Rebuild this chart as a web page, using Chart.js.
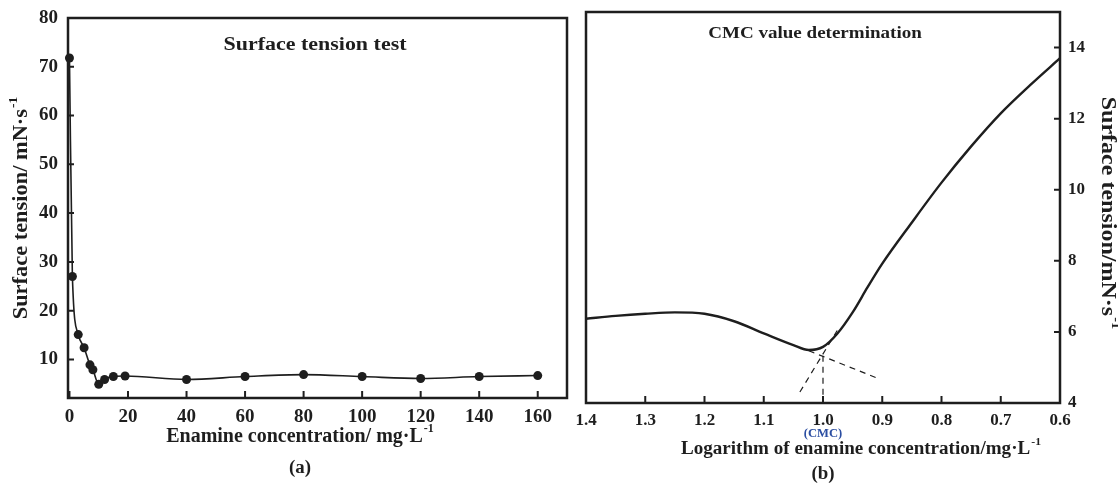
<!DOCTYPE html>
<html>
<head>
<meta charset="utf-8">
<script src="https://cdn.jsdelivr.net/npm/chart.js@4.4.0/dist/chart.umd.min.js"></script>
<style>
  body { margin: 0; background: #fff; }
  #wrapA { position: absolute; left: 0; top: 0; width: 576px; height: 487px; }
  #wrapB { position: absolute; left: 576px; top: 0; width: 542px; height: 487px; }
</style>
</head>
<body>
<div id="wrapA"><canvas id="chartA"></canvas></div>
<div id="wrapB"><canvas id="chartB"></canvas></div>
<script>
// (a) surface tension against enamine concentration
var concentration = [0, 1, 3, 5, 7, 8, 10, 12, 15, 19, 40, 60, 80, 100, 120, 140, 160];
var tension = [71.8, 27, 15.1, 12.4, 8.9, 7.9, 4.9, 5.9, 6.5, 6.6, 5.9, 6.5, 6.9, 6.5, 6.1, 6.5, 6.7];
var concTicks = [0, 20, 40, 60, 80, 100, 120, 140, 160];
var tensionTicks = [10, 20, 30, 40, 50, 60, 70, 80];

// (b) fitted curve against log concentration
var logConc = [1.40, 1.35, 1.30, 1.25, 1.20, 1.15, 1.10, 1.05, 1.024, 1.00, 0.976, 0.95, 0.925, 0.90, 0.85, 0.80, 0.75, 0.70, 0.65, 0.60];
var tensionFit = [6.37, 6.45, 6.51, 6.55, 6.51, 6.30, 5.96, 5.63, 5.49, 5.58, 5.95, 6.55, 7.25, 7.92, 9.08, 10.2, 11.22, 12.15, 12.95, 13.7];
var flatTangentX = [1.024, 0.907];
var flatTangentY = [5.47, 4.69];
var steepTangentX = [1.039, 0.976];
var steepTangentY = [4.31, 6.04];
var cmcX = 1.0;
var cmcY = 5.33;
var logTicks = [1.4, 1.3, 1.2, 1.1, 1.0, 0.9, 0.8, 0.7, 0.6];
var fitTicks = [4, 6, 8, 10, 12, 14];

var INK = '#1e1e1e';
var SERIF = '"Liberation Serif", "Times New Roman", serif';
Chart.defaults.font.family = SERIF;
Chart.defaults.color = INK;

function pts(xs, ys) {
	return xs.map(function (x, i) { return { x: x, y: ys[i] }; });
}

// bold text centred on (x, y), widened by k, with an optional small raised suffix
function label(ctx, base, sup, x, y, size, k, color) {
	var small = Math.round(size * 0.6);
	ctx.save();
	ctx.translate(x, y);
	ctx.scale(k, 1);
	ctx.fillStyle = color || INK;
	ctx.textAlign = 'left';
	ctx.textBaseline = 'middle';
	ctx.font = 'bold ' + size + 'px ' + SERIF;
	var w1 = ctx.measureText(base).width;
	var w2 = 0;
	if (sup) {
		ctx.font = 'bold ' + small + 'px ' + SERIF;
		w2 = ctx.measureText(sup).width + 1;
	}
	var sx = -(w1 + w2) / 2;
	ctx.font = 'bold ' + size + 'px ' + SERIF;
	ctx.fillText(base, sx, 0);
	if (sup) {
		ctx.font = 'bold ' + small + 'px ' + SERIF;
		ctx.fillText(sup, sx + w1 + 1, -size * 0.38);
	}
	ctx.restore();
}

// box around the plot, inward tick marks, then the panel texts
function framePlugin(yOnRight, drawTexts) {
	return {
		id: 'frame',
		afterDatasetsDraw: function (chart) {
			var ctx = chart.ctx, a = chart.chartArea, sx = chart.scales.x, sy = chart.scales.y;
			ctx.save();
			ctx.strokeStyle = INK;
			ctx.lineWidth = 2.5;
			ctx.strokeRect(a.left, a.top, a.right - a.left, a.bottom - a.top);
			ctx.lineWidth = 2;
			ctx.beginPath();
			sx.ticks.forEach(function (t) {
				var px = sx.getPixelForValue(t.value);
				ctx.moveTo(px, a.bottom);
				ctx.lineTo(px, a.bottom - 7);
			});
			sy.ticks.forEach(function (t) {
				var py = sy.getPixelForValue(t.value);
				if (yOnRight) {
					ctx.moveTo(a.right, py);
					ctx.lineTo(a.right - 6, py);
				} else {
					ctx.moveTo(a.left, py);
					ctx.lineTo(a.left + 6, py);
				}
			});
			ctx.stroke();
			drawTexts(chart, ctx, a);
			ctx.restore();
		}
	};
}

function fixedTicks(list) {
	return function (scale) {
		scale.ticks = list.map(function (v) { return { value: v }; });
	};
}

// fixed axis band, no extra room for overhanging labels
function fixedSize(prop, size) {
	return function (s) {
		s[prop] = size;
		s.paddingTop = s.paddingBottom = s.paddingLeft = s.paddingRight = 0;
	};
}

var chartA = new Chart(document.getElementById('chartA').getContext('2d'), {
	type: 'line',
	data: {
		datasets: [
			{
				data: pts(concentration, tension),
				borderColor: INK,
				borderWidth: 1.6,
				pointRadius: 4.5,
				pointBackgroundColor: INK,
				pointBorderWidth: 0,
				cubicInterpolationMode: 'monotone',
				clip: false,
			},
		],
	},
	options: {
		responsive: true,
		maintainAspectRatio: false,
		animation: false,
		layout: { padding: { top: 18, right: 9, left: 0, bottom: 0 } },
		plugins: {
			legend: { display: false },
			tooltip: { enabled: false },
		},
		scales: {
			x: {
				type: 'linear',
				min: -0.5,
				max: 170,
				grid: { display: false, drawTicks: false },
				border: { display: false },
				afterBuildTicks: fixedTicks(concTicks),
				afterFit: fixedSize('height', 89),
				ticks: { color: INK, font: { size: 19, weight: 'bold' }, padding: 8, maxRotation: 0, autoSkip: false },
			},
			y: {
				type: 'linear',
				min: 2.1,
				max: 80,
				grid: { display: false, drawTicks: false },
				border: { display: false },
				afterBuildTicks: fixedTicks(tensionTicks),
				afterFit: fixedSize('width', 68),
				ticks: { color: INK, font: { size: 19, weight: 'bold' }, padding: 10, autoSkip: false },
			},
		},
	},
	plugins: [framePlugin(false, function (chart, ctx, a) {
		label(ctx, 'Surface tension test', null, 315, 45, 18, 1.22);
		label(ctx, 'Enamine concentration/ mg·L', '-1', 300, 437, 20, 1);
		label(ctx, '(a)', null, 300, 468, 18, 1.05);
		ctx.save();
		ctx.translate(22, 208);
		ctx.rotate(-Math.PI / 2);
		label(ctx, 'Surface tension/ mN·s', '-1', 0, 0, 20, 1.12);
		ctx.restore();
	})],
});

var dashed = {
	borderColor: INK,
	borderWidth: 1.2,
	borderDash: [6, 5],
	pointRadius: 0,
	tension: 0,
};

var chartB = new Chart(document.getElementById('chartB').getContext('2d'), {
	type: 'line',
	data: {
		datasets: [
			{
				data: pts(logConc, tensionFit),
				borderColor: INK,
				borderWidth: 2.4,
				pointRadius: 0,
				cubicInterpolationMode: 'monotone',
			},
			Object.assign({ data: pts(flatTangentX, flatTangentY) }, dashed),
			Object.assign({ data: pts(steepTangentX, steepTangentY) }, dashed),
			Object.assign({ data: pts([cmcX, cmcX], [cmcY, 4]) }, dashed),
		],
	},
	options: {
		responsive: true,
		maintainAspectRatio: false,
		animation: false,
		layout: { padding: { top: 12, right: 0, left: 10, bottom: 0 } },
		plugins: {
			legend: { display: false },
			tooltip: { enabled: false },
		},
		scales: {
			x: {
				type: 'linear',
				reverse: true,
				min: 0.6,
				max: 1.4,
				grid: { display: false, drawTicks: false },
				border: { display: false },
				afterBuildTicks: fixedTicks(logTicks),
				afterFit: fixedSize('height', 84),
				ticks: {
					color: INK,
					font: { size: 17, weight: 'bold' },
					padding: 7,
					maxRotation: 0,
					autoSkip: false,
					callback: function (v) { return Number(v).toFixed(1); },
				},
			},
			y: {
				type: 'linear',
				position: 'right',
				min: 4,
				max: 15,
				grid: { display: false, drawTicks: false },
				border: { display: false },
				afterBuildTicks: fixedTicks(fitTicks),
				afterFit: fixedSize('width', 58),
				ticks: { color: INK, font: { size: 17, weight: 'bold' }, padding: 8, autoSkip: false },
			},
		},
	},
	plugins: [framePlugin(true, function (chart, ctx, a) {
		var xc = chart.scales.x.getPixelForValue(cmcX);
		label(ctx, 'CMC value determination', null, 239, 34, 17, 1.12);
		label(ctx, '(CMC)', null, xc, 434, 12, 1.05, '#2b4ea2');
		label(ctx, 'Logarithm of enamine concentration/mg·L', '-1', 285, 449, 18, 1.06);
		label(ctx, '(b)', null, xc, 474, 18, 1.05);
		ctx.save();
		ctx.translate(531, 213);
		ctx.rotate(Math.PI / 2);
		label(ctx, 'Surface tension/mN·s', '-1', 0, 0, 20, 1.2);
		ctx.restore();
	})],
});
</script>
</body>
</html>
